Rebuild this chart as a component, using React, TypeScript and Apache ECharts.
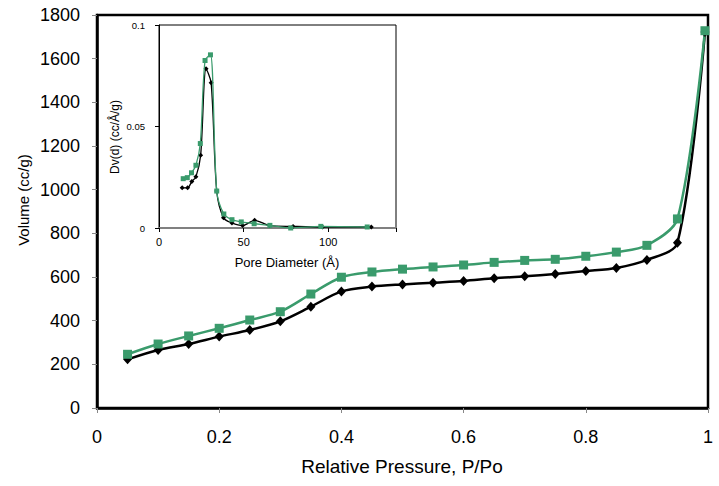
import React, { useEffect, useRef } from "react";
import * as echarts from "echarts";

// Main isotherm
const pressure = [0.05, 0.1, 0.15, 0.2, 0.25, 0.3, 0.35, 0.4, 0.45, 0.5, 0.55, 0.6, 0.65, 0.7, 0.75, 0.8, 0.85, 0.9, 0.95, 0.995];
const volumeBlack = [223, 266, 293, 327, 357, 397, 464, 534, 556, 566, 574, 582, 594, 603, 614, 627, 641, 678, 757, 1722];
const volumeGreen = [246, 293, 330, 365, 403, 441, 522, 599, 623, 636, 646, 655, 667, 676, 681, 695, 714, 745, 866, 1728];

// Inset pore size distribution
const poreBlack = [13.7, 16.9, 19.4, 21.8, 24.6, 27.8, 30.8, 34.1, 38.1, 43.1, 49.4, 56.5, 65.3, 79.2, 96.6, 125.4];
const dvBlack = [0.0198, 0.0198, 0.0229, 0.0252, 0.0358, 0.0784, 0.0715, 0.0182, 0.005, 0.0025, 0.0012, 0.0038, 0.0012, 0.0008, 0.0005, 0.0005];
const poreGreen = [14.3, 16.7, 19.2, 21.8, 24.4, 27.2, 30.4, 34.1, 38.3, 43.1, 48.6, 56.2, 65.5, 77.8, 95.6, 123.0];
const dvGreen = [0.0243, 0.0248, 0.0272, 0.0309, 0.0416, 0.0825, 0.0853, 0.0182, 0.0069, 0.0041, 0.003, 0.0021, 0.0013, 0.0, 0.0008, 0.0005];

const GREEN = "#3a9b6c";
const FONT = "'Liberation Sans', Arial, sans-serif";

const zip = (xs: number[], ys: number[]) => xs.map((x, i) => [x, ys[i]]);

export default function App() {
  const ref = useRef<HTMLDivElement>(null);
  useEffect(() => {
    if (!ref.current) return;
    const chart = echarts.init(ref.current, undefined, { renderer: "svg" });
    chart.setOption({
      animation: false,
      backgroundColor: "#ffffff",
      grid: [
        { left: 97, right: 11, top: 15, bottom: 78, show: true, borderColor: "#000", borderWidth: 2.5, backgroundColor: "#fff" },
        { left: 159, top: 25, width: 237, height: 203, show: true, borderColor: "#000", borderWidth: 1, backgroundColor: "#fff", z: 5 },
      ],
      xAxis: [
        {
          type: "value", gridIndex: 0, min: 0, max: 1, interval: 0.2,
          axisLine: { show: true, lineStyle: { color: "#000", width: 2.5 } },
          axisTick: { show: true, length: 5, lineStyle: { color: "#888", width: 1 } },
          axisLabel: { color: "#000", fontSize: 18, fontFamily: FONT, margin: 20, formatter: (v: number) => String(v) },
          splitLine: { show: false },
        },
        {
          type: "value", gridIndex: 1, min: 0, max: 140, interval: 50,
          axisLine: { show: true, lineStyle: { color: "#808080", width: 2 } },
          axisTick: { show: true, length: 4, lineStyle: { color: "#000", width: 1 } },
          axisLabel: { color: "#000", fontSize: 11, fontFamily: FONT, margin: 8, formatter: (v: number) => (v % 50 === 0 ? String(v) : "") },
          splitLine: { show: false },
          z: 6,
        },
      ],
      yAxis: [
        {
          type: "value", gridIndex: 0, min: 0, max: 1800, interval: 200,
          axisLine: { show: true, lineStyle: { color: "#000", width: 2.5 } },
          axisTick: { show: true, length: 5, lineStyle: { color: "#888", width: 1 } },
          axisLabel: { color: "#000", fontSize: 18, fontFamily: FONT, margin: 17, formatter: (v: number) => String(v) },
          splitLine: { show: false },
        },
        {
          type: "value", gridIndex: 1, min: 0, max: 0.1, interval: 0.05,
          axisLine: { show: true, lineStyle: { color: "#000", width: 1 } },
          axisTick: { show: true, length: 4, lineStyle: { color: "#000", width: 1 } },
          axisLabel: { color: "#000", fontSize: 9.5, fontFamily: FONT, margin: 14, formatter: (v: number) => String(v) },
          splitLine: { show: false },
          z: 6,
        },
      ],
      series: [
        {
          type: "line", xAxisIndex: 0, yAxisIndex: 0, data: zip(pressure, volumeBlack),
          smooth: 0.3, symbol: "diamond", symbolSize: [9, 10],
          lineStyle: { color: "#000", width: 2.5 }, itemStyle: { color: "#000" },
        },
        {
          type: "line", xAxisIndex: 0, yAxisIndex: 0, data: zip(pressure, volumeGreen),
          smooth: 0.3, symbol: "rect", symbolSize: 9,
          lineStyle: { color: GREEN, width: 2.5 }, itemStyle: { color: GREEN },
        },
        {
          type: "line", xAxisIndex: 1, yAxisIndex: 1, data: zip(poreBlack, dvBlack), z: 7,
          smooth: 0.3, symbol: "diamond", symbolSize: 5,
          lineStyle: { color: "#000", width: 1.3 }, itemStyle: { color: "#000" },
        },
        {
          type: "line", xAxisIndex: 1, yAxisIndex: 1, data: zip(poreGreen, dvGreen), z: 8,
          smooth: 0.3, symbol: "rect", symbolSize: 5,
          lineStyle: { color: GREEN, width: 1.3 }, itemStyle: { color: GREEN },
        },
      ],
      graphic: [
        {
          type: "text", x: 23, y: 200, rotation: Math.PI / 2, z: 10,
          style: { text: "Volume (cc/g)", align: "center", verticalAlign: "middle", font: `15px ${FONT}`, fill: "#000" },
        },
        {
          type: "text", x: 402, y: 466, z: 10,
          style: { text: "Relative Pressure, P/Po", align: "center", verticalAlign: "middle", font: `19px ${FONT}`, fill: "#000" },
        },
        {
          type: "text", x: 115, y: 137, rotation: Math.PI / 2, z: 10,
          style: { text: "Dv(d) (cc/Å/g)", align: "center", verticalAlign: "middle", font: `12px ${FONT}`, fill: "#000" },
        },
        {
          type: "text", x: 287, y: 262, z: 10,
          style: { text: "Pore Diameter (Å)", align: "center", verticalAlign: "middle", font: `13px ${FONT}`, fill: "#000" },
        },
      ],
    });
    return () => chart.dispose();
  }, []);
  return <div ref={ref} style={{ position: "fixed", left: 0, top: 0, width: 719, height: 486 }} />;
}
